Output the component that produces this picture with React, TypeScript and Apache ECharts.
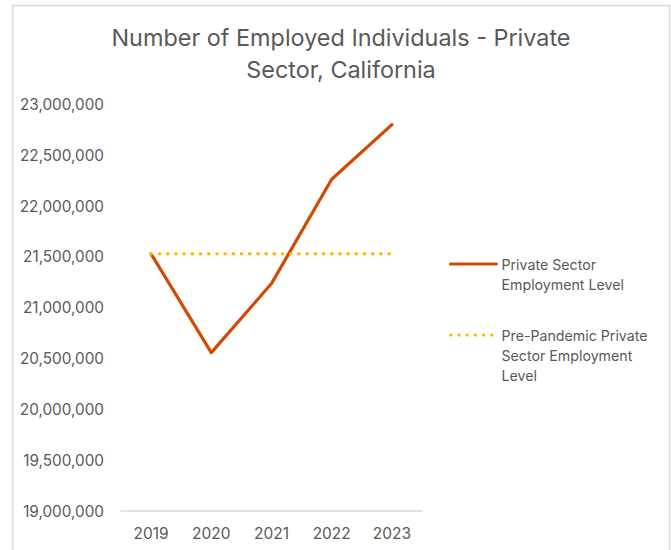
import React, { useEffect, useRef } from "react";
import * as echarts from "echarts";

const years = ["2019", "2020", "2021", "2022", "2023"];
const privateSector = [21530000, 20558000, 21238000, 22265000, 22802000];
const prePandemic = [21530000, 21530000, 21530000, 21530000, 21530000];
const seriesNames = ["Private Sector\nEmployment Level", "Pre-Pandemic Private\nSector Employment\nLevel"];
const titleText = "Number of Employed Individuals - Private\nSector, California";

export default function App() {
  const ref = useRef<HTMLDivElement>(null);
  useEffect(() => {
    if (!ref.current) return;
    const chart = echarts.init(ref.current, undefined, { renderer: "svg" });
    const font = "Inter, 'Noto Sans', sans-serif";
    chart.setOption({
      animation: false,
      backgroundColor: "#ffffff",
      textStyle: { fontFamily: font },
      title: {
        text: titleText,
        left: 336,
        top: 16,
        textAlign: "center",
        textStyle: { fontFamily: font, fontSize: 23.4, fontWeight: "normal", color: "#595959", lineHeight: 32 },
      },
      graphic: [
        {
          type: "rect",
          shape: { x: 12.5, y: 5.5, width: 657, height: 560 },
          style: { fill: "none", stroke: "#d9d9d9", lineWidth: 1.5 },
          silent: true,
        },
      ],
      legend: {
        orient: "vertical",
        left: 449,
        top: 234,
        padding: 0,
        itemWidth: 46,
        itemHeight: 20,
        itemGap: -9,
        itemStyle: { opacity: 0 },
        lineStyle: { width: 3, cap: "round" },
        textStyle: { fontFamily: font, fontSize: 14.2, color: "#595959", lineHeight: 20 },
        formatter: (name: string) => {
          const n = name.split("\n").length;
          return "\n".repeat(n - 1) + name;
        },
        data: seriesNames,
      },
      grid: { left: 121, right: 249, top: 104.5, bottom: 39 },
      xAxis: {
        type: "category",
        data: years,
        boundaryGap: true,
        axisLine: { lineStyle: { color: "#d9d9d9", width: 1.5 } },
        axisTick: { show: false },
        axisLabel: { color: "#595959", fontSize: 15.5, margin: 14, fontFamily: font },
      },
      yAxis: {
        type: "value",
        min: 19000000,
        max: 23000000,
        interval: 500000,
        axisLine: { show: false },
        axisTick: { show: false },
        splitLine: { show: false },
        axisLabel: {
          color: "#595959",
          fontSize: 15.3,
          margin: 17,
          fontFamily: font,
          formatter: (v: number) => v.toLocaleString("en-US"),
        },
      },
      series: [
        {
          name: seriesNames[0],
          type: "line",
          data: privateSector,
          symbol: "none",
          lineStyle: { color: "#D04A02", width: 3.2, cap: "round", join: "round" },
          itemStyle: { color: "#D04A02" },
        },
        {
          name: seriesNames[1],
          type: "line",
          data: prePandemic,
          symbol: "none",
          lineStyle: { color: "#FFB600", width: 3.2, type: [0.5, 7.7], cap: "round" },
          itemStyle: { color: "#FFB600" },
        },
      ],
    });
    return () => chart.dispose();
  }, []);
  return <div ref={ref} style={{ position: "fixed", left: 0, top: 0, width: 671, height: 550 }} />;
}
